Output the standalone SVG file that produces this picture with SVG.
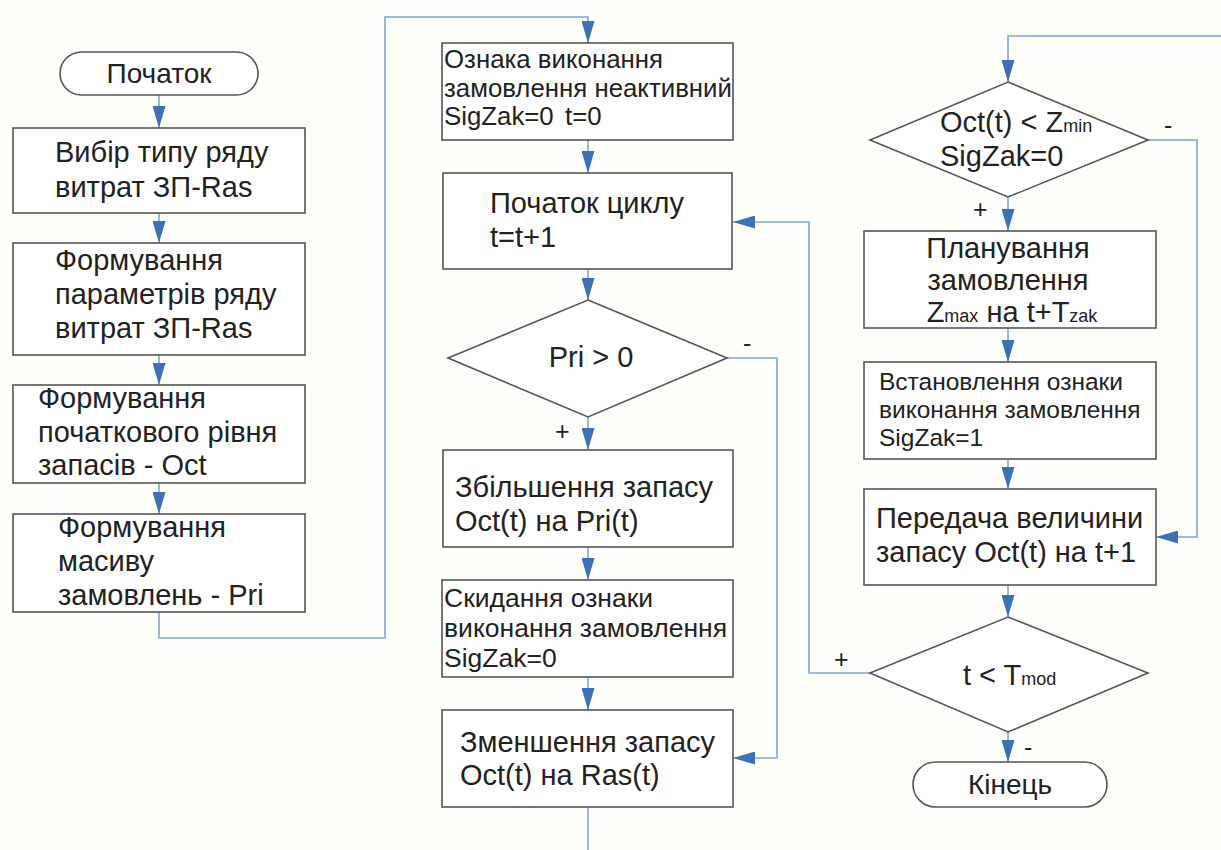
<svg xmlns="http://www.w3.org/2000/svg" width="1221" height="850" viewBox="0 0 1221 850">
<defs>
<marker id="ah" markerWidth="22" markerHeight="13" refX="22" refY="6.5" orient="auto" markerUnits="userSpaceOnUse" viewBox="0 0 22 13">
<path d="M0,0 L22,6.5 L0,13 Z" fill="#3e70b5"/>
</marker>
<style>
.box{fill:#ffffff;stroke:#555;stroke-width:1.6}
.t{font-family:"Liberation Sans",Arial,sans-serif;fill:#222}
.l{font-size:29px}
.m{font-size:25.8px}
.r{font-size:24.5px}
.s{font-size:18px}
.c{text-anchor:middle}
.ln{fill:none;stroke:#7ea7cf;stroke-width:1.6}
.sg{font-family:"Liberation Sans",Arial,sans-serif;font-size:25px;fill:#222}
</style>
</defs>
<rect width="1221" height="850" fill="#fdfdfa"/>

<g id="connectors">
<path class="ln" d="M159,95 V128" marker-end="url(#ah)"/>
<path class="ln" d="M159,213 V243" marker-end="url(#ah)"/>
<path class="ln" d="M159,355 V385" marker-end="url(#ah)"/>
<path class="ln" d="M159,483 V514" marker-end="url(#ah)"/>
<path class="ln" d="M159,612 V638 H385 V17 H588 V43" marker-end="url(#ah)"/>
<path class="ln" d="M588,140 V173" marker-end="url(#ah)"/>
<path class="ln" d="M588,269 V300" marker-end="url(#ah)"/>
<path class="ln" d="M588,417 V450" marker-end="url(#ah)"/>
<path class="ln" d="M588,547 V580" marker-end="url(#ah)"/>
<path class="ln" d="M588,677 V710" marker-end="url(#ah)"/>
<path class="ln" d="M588,807 V850"/>
<path class="ln" d="M727,358 H777 V758 H733" marker-end="url(#ah)"/>
<path class="ln" d="M870,673 H809 V222 H733" marker-end="url(#ah)"/>
<path class="ln" d="M1221,36 H1008 V82" marker-end="url(#ah)"/>
<path class="ln" d="M1008,197 V231" marker-end="url(#ah)"/>
<path class="ln" d="M1008,328 V362" marker-end="url(#ah)"/>
<path class="ln" d="M1008,459 V489" marker-end="url(#ah)"/>
<path class="ln" d="M1148,140 H1197 V537 H1156" marker-end="url(#ah)"/>
<path class="ln" d="M1008,585 V617" marker-end="url(#ah)"/>
<path class="ln" d="M1008,732 V762" marker-end="url(#ah)"/>
<text class="sg" x="743" y="352">-</text>
<text class="sg" x="555" y="440">+</text>
<text class="sg" x="1164" y="134">-</text>
<text class="sg" x="973" y="218">+</text>
<text class="sg" x="834" y="668">+</text>
<text class="sg" x="1024" y="756">-</text>
</g>

<g id="start">
<rect class="box" x="60" y="52" width="198" height="43" rx="21.5"/>
<text class="t c" style="font-size:28px" x="159" y="83">Початок</text>
</g>
<g id="n1">
<rect class="box" x="13" y="128" width="292" height="85"/>
<text class="t l" x="55" y="162">Вибір типу ряду</text>
<text class="t l" x="55" y="197">витрат ЗП-Ras</text>
</g>
<g id="n2">
<rect class="box" x="13" y="243" width="292" height="112"/>
<text class="t l" x="55" y="270">Формування</text>
<text class="t l" x="55" y="304">параметрів ряду</text>
<text class="t l" x="55" y="338">витрат ЗП-Ras</text>
</g>
<g id="n3">
<rect class="box" x="13" y="385" width="292" height="98"/>
<text class="t l" x="38" y="408">Формування</text>
<text class="t l" x="38" y="442">початкового рівня</text>
<text class="t l" x="38" y="475">запасів - Oct</text>
</g>
<g id="n4">
<rect class="box" x="13" y="514" width="292" height="98"/>
<text class="t l" x="58" y="537">Формування</text>
<text class="t l" x="58" y="571">масиву</text>
<text class="t l" x="58" y="605">замовлень - Pri</text>
</g>

<g id="m1">
<rect class="box" x="442" y="43" width="291" height="97"/>
<text class="t m" x="444" y="68">Ознака виконання</text>
<text class="t m" x="444" y="97">замовлення неактивний</text>
<text class="t m" x="444" y="125">SigZak=0<tspan x="565">t=0</tspan></text>
</g>
<g id="m2">
<rect class="box" x="443" y="173" width="289" height="96"/>
<text class="t l" x="490" y="213">Початок циклу</text>
<text class="t l" x="490" y="247">t=t+1</text>
</g>
<g id="m3">
<polygon class="box" points="588,300 727,358 588,417 448,358"/>
<text class="t l c" x="591" y="367">Pri &gt; 0</text>
</g>
<g id="m4">
<rect class="box" x="443" y="450" width="290" height="97"/>
<text class="t l" x="455" y="497">Збільшення запасу</text>
<text class="t l" x="455" y="531">Oct(t) на Pri(t)</text>
</g>
<g id="m5">
<rect class="box" x="442" y="580" width="291" height="97"/>
<text class="t" style="font-size:26.5px" x="444" y="607">Скидання ознаки</text>
<text class="t" style="font-size:26.5px" x="444" y="637">виконання замовлення</text>
<text class="t" style="font-size:26.5px" x="444" y="667">SigZak=0</text>
</g>
<g id="m6">
<rect class="box" x="442" y="710" width="291" height="97"/>
<text class="t l" x="460" y="752">Зменшення запасу</text>
<text class="t l" x="460" y="785">Oct(t) на Ras(t)</text>
</g>

<g id="r1">
<polygon class="box" points="1008,82 1148,140 1008,197 870,140"/>
<text class="t l" x="940" y="132">Oct(t) &lt; Z<tspan class="s">min</tspan></text>
<text class="t l" x="940" y="166">SigZak=0</text>
</g>
<g id="r2">
<rect class="box" x="864" y="231" width="292" height="97"/>
<text class="t l c" x="1008" y="258">Планування</text>
<text class="t l c" x="1008" y="290">замовлення</text>
<text class="t l c" x="1012" y="322">Z<tspan class="s">max</tspan> на t+T<tspan class="s">zak</tspan></text>
</g>
<g id="r3">
<rect class="box" x="864" y="362" width="292" height="97"/>
<text class="t r" x="879" y="390">Встановлення ознаки</text>
<text class="t r" x="879" y="418">виконання замовлення</text>
<text class="t r" x="879" y="446">SigZak=1</text>
</g>
<g id="r4">
<rect class="box" x="864" y="489" width="292" height="96"/>
<text class="t l" x="876" y="528">Передача величини</text>
<text class="t l" x="876" y="562">запасу Oct(t) на t+1</text>
</g>
<g id="r5">
<polygon class="box" points="1008,617 1148,673 1008,732 870,673"/>
<text class="t l" x="963" y="685">t &lt; T<tspan class="s">mod</tspan></text>
</g>
<g id="end">
<rect class="box" x="913" y="762" width="194" height="45" rx="22.5"/>
<text class="t c" style="font-size:28px" x="1010" y="794">Кінець</text>
</g>
</svg>
